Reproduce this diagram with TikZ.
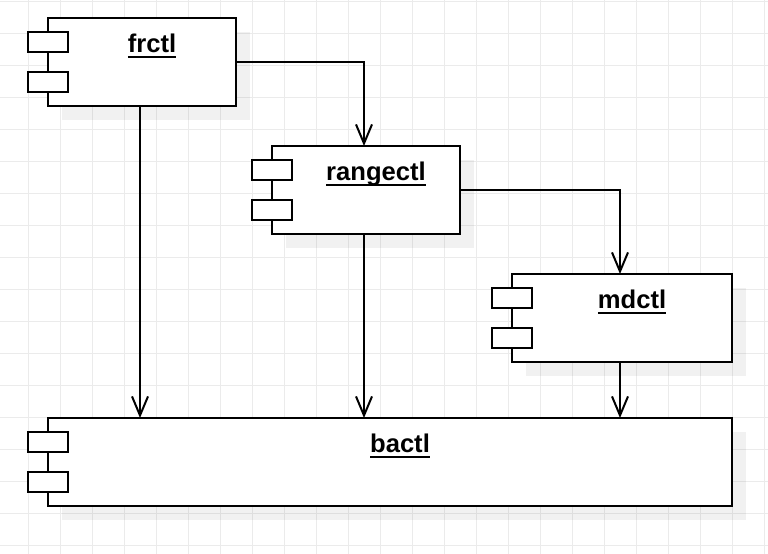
\documentclass[tikz,border=0pt]{standalone}
\usepackage{fontspec}
\setmainfont{Liberation Sans}
\usetikzlibrary{arrows.meta,shadows}
\newcommand{\myul}[1]{\setbox0\hbox{#1}\rlap{\rule[-5.4bp]{\wd0}{2bp}}\box0}
\begin{document}
\begin{tikzpicture}[x=1bp,y=-1bp,
  gridline/.style={draw=black!8, line width=1bp},
  comp/.style={draw, line width=2bp, fill=white, inner sep=0, outer sep=0, minimum height=88bp,
    drop shadow={shadow xshift=14bp, shadow yshift=-14bp, fill=black, opacity=0.055}},
  port/.style={draw, line width=2bp, fill=white, inner sep=0, outer sep=0, minimum width=40bp, minimum height=20bp},
  title/.style={anchor=base, inner sep=0, font=\fontsize{25.7}{30}\selectfont\bfseries},
  conn/.style={line width=2bp, -{Straight Barb[length=19bp,width=16bp]}}
]
\useasboundingbox (0,0) rectangle (768,554);
\fill[white] (0,0) rectangle (768,554);
\foreach \i in {0,...,23} \draw[gridline] ({28.7+32*\i},0) -- ({28.7+32*\i},554);
\foreach \j in {0,...,17} \draw[gridline] (0,{1.7+32*\j}) -- (768,{1.7+32*\j});

% frctl
\node[comp, minimum width=188bp] (frctl) at (142,62) {};
\node[port] (frctl-p1) at (48,42) {};
\node[port] (frctl-p2) at (48,82) {};
\node[title] (frctl-t) at (152,52.3) {\myul{frctl}};

% rangectl
\node[comp, minimum width=188bp] (rangectl) at (366,190) {};
\node[port] (rangectl-p1) at (272,170) {};
\node[port] (rangectl-p2) at (272,210) {};
\node[title] (rangectl-t) at (376,180.3) {\myul{rangectl}};

% mdctl
\node[comp, minimum width=220bp] (mdctl) at (622,318) {};
\node[port] (mdctl-p1) at (512,298) {};
\node[port] (mdctl-p2) at (512,338) {};
\node[title] (mdctl-t) at (632,308.3) {\myul{mdctl}};

% bactl
\node[comp, minimum width=684bp] (bactl) at (390,462) {};
\node[port] (bactl-p1) at (48,442) {};
\node[port] (bactl-p2) at (48,482) {};
\node[title] (bactl-t) at (400,452.3) {\myul{bactl}};

% connectors
\coordinate (rn) at ([xshift=-2bp]rangectl.north);
\coordinate (mn) at ([xshift=-2bp]mdctl.north);
\coordinate (fs) at ([xshift=-2bp]frctl.south);
\coordinate (rs) at ([xshift=-2bp]rangectl.south);
\coordinate (ms) at ([xshift=-2bp]mdctl.south);
\draw[conn] (frctl.east) -| (rn);
\draw[conn] (rangectl.east) -| (mn);
\draw[conn] (fs) -- (fs |- bactl.north);
\draw[conn] (rs) -- (rs |- bactl.north);
\draw[conn] (ms) -- (ms |- bactl.north);
\end{tikzpicture}
\end{document}
